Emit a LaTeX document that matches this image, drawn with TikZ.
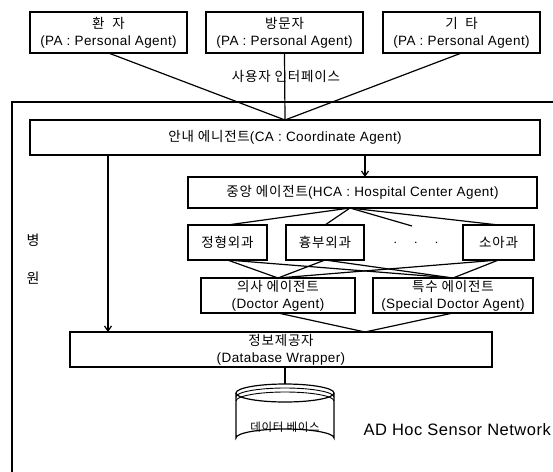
\documentclass[tikz,border=0pt]{standalone}
\usepackage{fontspec}
\setmainfont{Liberation Sans}[LetterSpace=3]
\newfontfamily\kr{Noto Sans CJK KR}[LetterSpace=6]
\usetikzlibrary{arrows.meta}
\begin{document}
\begin{tikzpicture}[x=1pt,y=-1pt,
  ln/.style={line width=1.2pt},
  arr/.style={line width=1.2pt,-{Straight Barb[length=5pt,width=7pt]}},
  box/.style={draw,line width=1.2pt,inner sep=0pt,outer sep=0pt,align=center,
    font=\fontsize{13.5}{17}\selectfont},
  lbl/.style={inner sep=0pt,font=\fontsize{13.5}{17}\selectfont}]
\useasboundingbox (0,0) rectangle (553,471);
\clip (0,0) rectangle (553,471);
% hospital frame
\draw[line width=1.4pt] (12,102) rectangle (600,520);
% top agents
\node[box,minimum width=157pt,minimum height=41pt] (b1) at (108.5,32.5) {{\kr 환\ \ 자}\\(PA : Personal Agent)};
\node[box,minimum width=157pt,minimum height=41pt] (b2) at (284.5,32.5) {{\kr 방문자}\\(PA : Personal Agent)};
\node[box,minimum width=157pt,minimum height=41pt] (b3) at (461.5,32.5) {{\kr 기\ \ 타}\\(PA : Personal Agent)};
\node[lbl] (ui) at (286,76) {\kr 사용자 인터페이스};
% coordinate agent
\node[box,minimum width=510pt,minimum height=35pt] (ca) at (285,137.5) {{\kr 안내 에니전트}(CA : Coordinate Agent)};
\node[box,minimum width=349pt,minimum height=31pt] (hca) at (362.5,192.5) {{\kr 중앙 에이전트}(HCA : Hospital Center Agent)};
% departments
\node[box,minimum width=79pt,minimum height=35pt] (d1) at (227.5,242.5) {\kr 정형외과};
\node[box,minimum width=78pt,minimum height=35pt] (d2) at (325,242.5) {\kr 흉부외과};
\node[lbl] (dots) at (416,243) {$\cdot\quad\cdot\quad\cdot$};
\node[box,minimum width=71pt,minimum height=35pt] (d3) at (498.5,242.5) {\kr 소아과};
% doctor agents
\node[box,minimum width=154pt,minimum height=35pt] (dr1) at (278,295.5) {{\kr 의사 에이전트}\\(Doctor Agent)};
\node[box,minimum width=160pt,minimum height=35pt] (dr2) at (453,295.5) {{\kr 특수 에이전트}\\(Special Doctor Agent)};
% database wrapper
\node[box,minimum width=422pt,minimum height=35pt] (dbw) at (281,349.5) {{\kr 정보제공자}\\(Database Wrapper)};
% side label
\node[lbl,font=\fontsize{14}{17}\selectfont] (s1) at (33,240) {\kr 병};
\node[lbl,font=\fontsize{14}{17}\selectfont] (s2) at (33,278) {\kr 원};
\node[lbl,font=\fontsize{16.5}{20}\selectfont,anchor=east] (adhoc) at (551,430) {AD Hoc Sensor Network};
% database cylinder
\coordinate (cyltop) at (285,384);
\draw[ln] (236,393) -- (236,438) arc[start angle=180,end angle=360,x radius=49,y radius=9] -- (334,393);
\draw[ln] (285,393) ellipse [x radius=49,y radius=9];
\draw[line width=0.9pt] (236,397) arc[start angle=180,end angle=360,x radius=49,y radius=9];
\draw[line width=0.9pt] (236,401) arc[start angle=180,end angle=360,x radius=49,y radius=9];
\node[lbl,font=\fontsize{11.5}{14}\selectfont] (db) at (285,427) {\kr 데이터 베이스};
% connectors: users to CA
\draw[ln] (b1.south) -- (ca.north);
\draw[ln] (b2.south) -- (ca.north);
\draw[ln] (b3.south) -- (ca.north);
% CA to HCA
\coordinate (ax) at (365,0);
\draw[arr] (ca.south -| ax) -- (hca.north -| ax);
% CA to DBW
\coordinate (lx) at (108,0);
\draw[arr] (ca.south -| lx) -- (dbw.north -| lx);
% HCA to departments
\coordinate (hcab) at (350,208);
\coordinate (dotend) at (412,226);
\draw[ln] (hcab) -- (d1.north);
\draw[ln] (hcab) -- (d2.north);
\draw[ln] (hcab) -- (dotend);
\draw[ln] (hcab) -- (d3.north);
% departments to doctors
\foreach \d in {d1,d2,d3}{
  \draw[ln] (\d.south) -- (dr1.north);
  \draw[ln] (\d.south) -- (dr2.north);
}
% doctors to DBW
\coordinate (dbwt) at (365,332);
\draw[ln] (dr1.south) -- (dbwt);
\draw[ln] (dr2.south) -- (dbwt);
% DBW to database
\draw[ln] (dbw.south -| cyltop) -- (cyltop);
\end{tikzpicture}
\end{document}
